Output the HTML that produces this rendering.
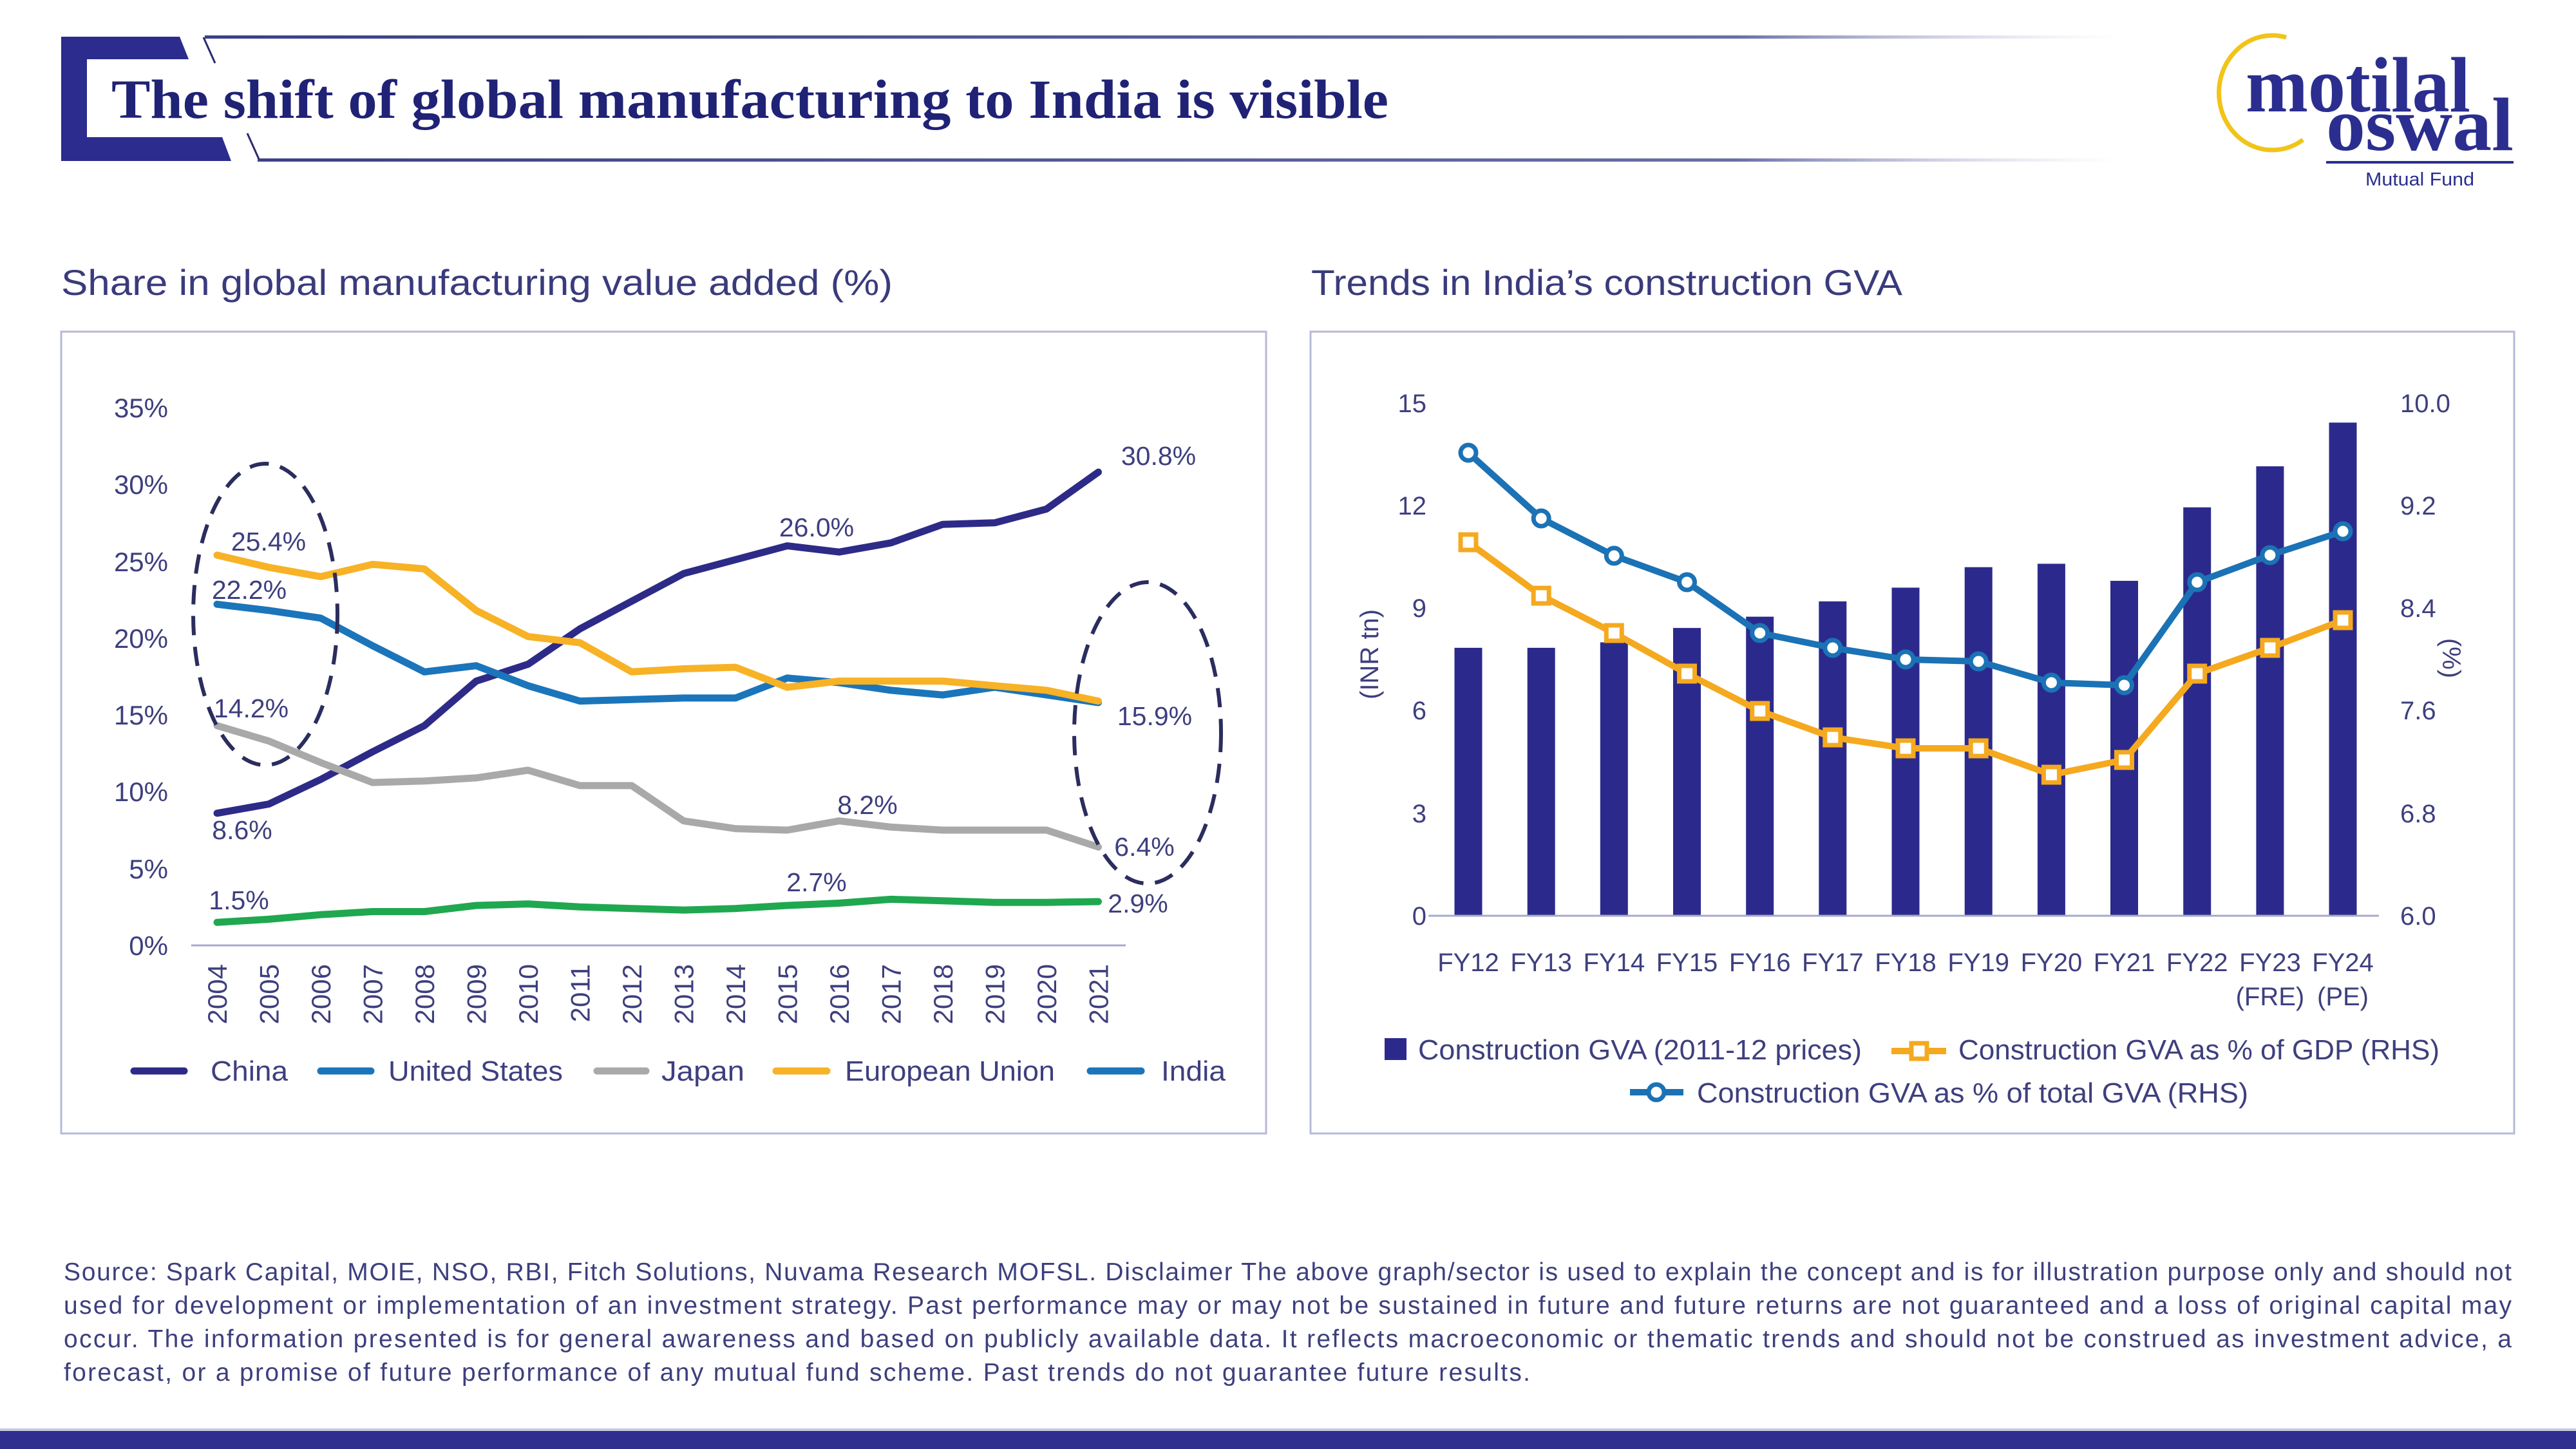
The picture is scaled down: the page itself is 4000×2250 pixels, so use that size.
<!DOCTYPE html>
<html>
<head>
<meta charset="utf-8">
<style>
html,body{margin:0;padding:0;background:#ffffff;}
svg{display:block;}
text{font-family:"Liberation Sans",Arial,sans-serif;}
.serif{font-family:"Liberation Serif","Times New Roman",serif;}
</style>
</head>
<body>
<svg width="4000" height="2250" viewBox="0 0 4000 2250" xmlns="http://www.w3.org/2000/svg">
<defs>
  <linearGradient id="hl" gradientUnits="userSpaceOnUse" x1="318" y1="0" x2="3290" y2="0">
    <stop offset="0" stop-color="#3c3f86"/>
    <stop offset="0.8" stop-color="#6a6ea8"/>
    <stop offset="1" stop-color="#c9cbe3" stop-opacity="0"/>
  </linearGradient>
</defs>
<rect x="0" y="0" width="4000" height="2250" fill="#ffffff"/>

<!-- Header bracket -->
<polygon points="95,57 279,57 293,92 135,92 135,213 345,213 359,250 95,250" fill="#2b2c8e"/>
<rect x="318" y="55" width="2972" height="5" fill="url(#hl)"/>
<rect x="400" y="246" width="2890" height="5" fill="url(#hl)"/>
<line x1="316" y1="58" x2="334" y2="98" stroke="#2b2c6e" stroke-width="3"/>
<line x1="384" y1="207" x2="402" y2="247" stroke="#2b2c6e" stroke-width="3"/>
<text class="serif" x="173" y="183" font-size="86" font-weight="bold" fill="#1f2275" textLength="1983" lengthAdjust="spacingAndGlyphs">The shift of global manufacturing to India is visible</text>

<!-- Logo -->
<path d="M 3550 58 A 83 89 0 1 0 3576 217" fill="none" stroke="#f0c419" stroke-width="7"/>
<text class="serif" x="3487" y="173" font-size="122" font-weight="bold" fill="#2b2e8f" textLength="349" lengthAdjust="spacingAndGlyphs">motilal</text>
<text class="serif" x="3612" y="233" font-size="118" font-weight="bold" fill="#2b2e8f" textLength="291" lengthAdjust="spacingAndGlyphs">oswal</text>
<rect x="3612" y="250" width="291" height="4" fill="#2b2e8f"/>
<text x="3673" y="288" font-size="29" fill="#2b2e8f" textLength="169" lengthAdjust="spacingAndGlyphs">Mutual Fund</text>

<!-- Subtitles -->
<text x="95" y="458" font-size="56" fill="#3a3b7c" textLength="1291" lengthAdjust="spacingAndGlyphs">Share in global manufacturing value added (%)</text>
<text x="2036" y="458" font-size="56" fill="#3a3b7c" textLength="918" lengthAdjust="spacingAndGlyphs">Trends in India’s construction GVA</text>

<!-- Boxes -->
<rect x="95" y="515" width="1871" height="1245" fill="none" stroke="#b7b9d9" stroke-width="3"/>
<rect x="2035" y="515" width="1869" height="1245" fill="none" stroke="#b7b9d9" stroke-width="3"/>

<!-- LEFT CHART -->
<g font-size="42" fill="#3e3f7e" text-anchor="end">
  <text x="261" y="648">35%</text>
  <text x="261" y="767">30%</text>
  <text x="261" y="887">25%</text>
  <text x="261" y="1006">20%</text>
  <text x="261" y="1125">15%</text>
  <text x="261" y="1244">10%</text>
  <text x="261" y="1364">5%</text>
  <text x="261" y="1483">0%</text>
</g>
<line x1="297" y1="1468" x2="1748" y2="1468" stroke="#a7a9cc" stroke-width="3"/>
<g font-size="42" fill="#3e3f7e" text-anchor="end">
  <text transform="translate(352,1497) rotate(-90)">2004</text>
  <text transform="translate(432.5,1497) rotate(-90)">2005</text>
  <text transform="translate(513,1497) rotate(-90)">2006</text>
  <text transform="translate(593.5,1497) rotate(-90)">2007</text>
  <text transform="translate(674,1497) rotate(-90)">2008</text>
  <text transform="translate(754.5,1497) rotate(-90)">2009</text>
  <text transform="translate(835,1497) rotate(-90)">2010</text>
  <text transform="translate(915.5,1497) rotate(-90)">2011</text>
  <text transform="translate(996,1497) rotate(-90)">2012</text>
  <text transform="translate(1076.5,1497) rotate(-90)">2013</text>
  <text transform="translate(1157,1497) rotate(-90)">2014</text>
  <text transform="translate(1237.5,1497) rotate(-90)">2015</text>
  <text transform="translate(1318,1497) rotate(-90)">2016</text>
  <text transform="translate(1398.5,1497) rotate(-90)">2017</text>
  <text transform="translate(1479,1497) rotate(-90)">2018</text>
  <text transform="translate(1559.5,1497) rotate(-90)">2019</text>
  <text transform="translate(1640,1497) rotate(-90)">2020</text>
  <text transform="translate(1720.5,1497) rotate(-90)">2021</text>
</g>

<g fill="none" stroke-width="11" stroke-linejoin="round" stroke-linecap="round">
  <polyline stroke="#2d2b87" points="337,1262.8 417.5,1248.5 498,1210.3 578.5,1167.4 659,1126.8 739.5,1057.6 820,1031.4 900.5,976.5 981,933.5 1061.5,890.6 1142,869.1 1222.5,847.6 1303,857.2 1383.5,842.9 1464,814.2 1544.5,811.8 1625,790.4 1705.5,733.1"/>
  <polyline stroke="#1b75bb" points="337,938.3 417.5,947.9 498,959.8 578.5,1002.7 659,1043.3 739.5,1033.7 820,1064.8 900.5,1088.6 981,1086.2 1061.5,1083.9 1142,1083.9 1222.5,1052.8 1303,1060 1383.5,1071.9 1464,1079.1 1544.5,1067.2 1625,1079.1 1705.5,1091"/>
  <polyline stroke="#a9a9a9" points="337,1126.8 417.5,1150.7 498,1184.1 578.5,1215.1 659,1212.7 739.5,1207.9 820,1196 900.5,1219.9 981,1219.9 1061.5,1274.7 1142,1286.7 1222.5,1289 1303,1274.7 1383.5,1284.3 1464,1289 1544.5,1289 1625,1289 1705.5,1315.3"/>
  <polyline stroke="#f7b226" points="337,862 417.5,881 498,895.4 578.5,876.3 659,883.4 739.5,947.9 820,988.4 900.5,998 981,1043.3 1061.5,1038.5 1142,1036.1 1222.5,1067.2 1303,1057.6 1383.5,1057.6 1464,1057.6 1544.5,1064.8 1625,1071.9 1705.5,1088.6"/>
  <polyline stroke="#1fa84f" points="337,1432.2 417.5,1427.4 498,1420.3 578.5,1415.5 659,1415.5 739.5,1406 820,1403.6 900.5,1408.3 981,1410.7 1061.5,1413.1 1142,1410.7 1222.5,1406 1303,1402.4 1383.5,1396.4 1464,1398.8 1544.5,1401.2 1625,1401.2 1705.5,1400"/>
</g>

<ellipse cx="412" cy="954" rx="112" ry="234" fill="none" stroke="#2b2d5e" stroke-width="6" stroke-dasharray="30 18"/>
<ellipse cx="1782" cy="1138" rx="114" ry="234" fill="none" stroke="#2b2d5e" stroke-width="6" stroke-dasharray="30 18"/>

<g font-size="41" fill="#3e3f7e" text-anchor="middle">
  <text x="417" y="855">25.4%</text>
  <text x="387" y="930">22.2%</text>
  <text x="390" y="1114">14.2%</text>
  <text x="376" y="1303">8.6%</text>
  <text x="371" y="1412">1.5%</text>
  <text x="1799" y="722">30.8%</text>
  <text x="1268" y="833">26.0%</text>
  <text x="1793" y="1126">15.9%</text>
  <text x="1347" y="1264">8.2%</text>
  <text x="1777" y="1329">6.4%</text>
  <text x="1268" y="1384">2.7%</text>
  <text x="1767" y="1417">2.9%</text>
</g>

<!-- Left legend -->
<g stroke-width="11" stroke-linecap="round">
  <line x1="208" y1="1663" x2="286" y2="1663" stroke="#2d2b87"/>
  <line x1="498" y1="1663" x2="576" y2="1663" stroke="#1b75bb"/>
  <line x1="927" y1="1663" x2="1003" y2="1663" stroke="#a9a9a9"/>
  <line x1="1205" y1="1663" x2="1284" y2="1663" stroke="#f7b226"/>
  <line x1="1693" y1="1663" x2="1772" y2="1663" stroke="#1b75bb"/>
</g>
<g font-size="44" fill="#3e3f7e">
  <text x="327" y="1678" textLength="120" lengthAdjust="spacingAndGlyphs">China</text>
  <text x="603" y="1678" textLength="271" lengthAdjust="spacingAndGlyphs">United States</text>
  <text x="1027" y="1678" textLength="129" lengthAdjust="spacingAndGlyphs">Japan</text>
  <text x="1312" y="1678" textLength="326" lengthAdjust="spacingAndGlyphs">European Union</text>
  <text x="1803" y="1678" textLength="100" lengthAdjust="spacingAndGlyphs">India</text>
</g>

<!-- RIGHT CHART -->
<g fill="#2b2a8c">
  <rect x="2258.5" y="1005.9" width="43" height="416.1"/>
  <rect x="2371.7" y="1005.9" width="43" height="416.1"/>
  <rect x="2484.8" y="997.4" width="43" height="424.6"/>
  <rect x="2598" y="975.1" width="43" height="446.9"/>
  <rect x="2711.2" y="957.6" width="43" height="464.4"/>
  <rect x="2824.3" y="933.8" width="43" height="488.2"/>
  <rect x="2937.5" y="912.5" width="43" height="509.5"/>
  <rect x="3050.7" y="880.7" width="43" height="541.3"/>
  <rect x="3163.9" y="875.4" width="43" height="546.6"/>
  <rect x="3277" y="901.9" width="43" height="520.1"/>
  <rect x="3390.2" y="787.8" width="43" height="634.2"/>
  <rect x="3503.4" y="724.1" width="43" height="697.9"/>
  <rect x="3616.5" y="656.2" width="43" height="765.8"/>
</g>
<line x1="2218" y1="1422" x2="3694" y2="1422" stroke="#a7a9cc" stroke-width="3"/>

<polyline fill="none" stroke="#f5a91f" stroke-width="10" stroke-linejoin="round" points="2280,842 2393.2,925 2506.3,983 2619.5,1046 2732.7,1104 2845.8,1145 2959,1162 3072.2,1162 3185.4,1203 3298.5,1180 3411.7,1046 3524.9,1006 3638,963"/>
<g fill="#ffffff" stroke="#f5a91f" stroke-width="7">
  <rect x="2268" y="830" width="24" height="24"/>
  <rect x="2381.2" y="913" width="24" height="24"/>
  <rect x="2494.3" y="971" width="24" height="24"/>
  <rect x="2607.5" y="1034" width="24" height="24"/>
  <rect x="2720.7" y="1092" width="24" height="24"/>
  <rect x="2833.8" y="1133" width="24" height="24"/>
  <rect x="2947" y="1150" width="24" height="24"/>
  <rect x="3060.2" y="1150" width="24" height="24"/>
  <rect x="3173.4" y="1191" width="24" height="24"/>
  <rect x="3286.5" y="1168" width="24" height="24"/>
  <rect x="3399.7" y="1034" width="24" height="24"/>
  <rect x="3512.9" y="994" width="24" height="24"/>
  <rect x="3626" y="951" width="24" height="24"/>
</g>
<polyline fill="none" stroke="#1b72b5" stroke-width="10" stroke-linejoin="round" points="2280,703 2393.2,805 2506.3,863 2619.5,904 2732.7,983 2845.8,1006 2959,1024 3072.2,1027 3185.4,1060 3298.5,1064 3411.7,904 3524.9,862 3638,825"/>
<g fill="#ffffff" stroke="#1b72b5" stroke-width="7">
  <circle cx="2280" cy="703" r="12"/>
  <circle cx="2393.2" cy="805" r="12"/>
  <circle cx="2506.3" cy="863" r="12"/>
  <circle cx="2619.5" cy="904" r="12"/>
  <circle cx="2732.7" cy="983" r="12"/>
  <circle cx="2845.8" cy="1006" r="12"/>
  <circle cx="2959" cy="1024" r="12"/>
  <circle cx="3072.2" cy="1027" r="12"/>
  <circle cx="3185.4" cy="1060" r="12"/>
  <circle cx="3298.5" cy="1064" r="12"/>
  <circle cx="3411.7" cy="904" r="12"/>
  <circle cx="3524.9" cy="862" r="12"/>
  <circle cx="3638" cy="825" r="12"/>
</g>

<g font-size="40" fill="#3e3f7e" text-anchor="end">
  <text x="2215" y="640">15</text>
  <text x="2215" y="799">12</text>
  <text x="2215" y="958">9</text>
  <text x="2215" y="1117">6</text>
  <text x="2215" y="1277">3</text>
  <text x="2215" y="1436">0</text>
</g>
<g font-size="40" fill="#3e3f7e" text-anchor="start">
  <text x="3727" y="640">10.0</text>
  <text x="3727" y="799">9.2</text>
  <text x="3727" y="958">8.4</text>
  <text x="3727" y="1117">7.6</text>
  <text x="3727" y="1277">6.8</text>
  <text x="3727" y="1436">6.0</text>
</g>
<text transform="translate(2140,1016) rotate(-90)" font-size="40" fill="#3e3f7e" text-anchor="middle">(INR tn)</text>
<text transform="translate(3793,1022) rotate(90)" font-size="40" fill="#3e3f7e" text-anchor="middle">(%)</text>

<g font-size="40" fill="#3e3f7e" text-anchor="middle">
  <text x="2280" y="1508">FY12</text>
  <text x="2393.2" y="1508">FY13</text>
  <text x="2506.3" y="1508">FY14</text>
  <text x="2619.5" y="1508">FY15</text>
  <text x="2732.7" y="1508">FY16</text>
  <text x="2845.8" y="1508">FY17</text>
  <text x="2959" y="1508">FY18</text>
  <text x="3072.2" y="1508">FY19</text>
  <text x="3185.4" y="1508">FY20</text>
  <text x="3298.5" y="1508">FY21</text>
  <text x="3411.7" y="1508">FY22</text>
  <text x="3524.9" y="1508">FY23</text>
  <text x="3638" y="1508">FY24</text>
  <text x="3524.9" y="1561">(FRE)</text>
  <text x="3638" y="1561">(PE)</text>
</g>

<!-- Right legend -->
<rect x="2150" y="1612" width="34" height="34" fill="#2b2a8c"/>
<text x="2202" y="1645" font-size="44" fill="#3e3f7e" textLength="689" lengthAdjust="spacingAndGlyphs">Construction GVA (2011-12 prices)</text>
<line x1="2937" y1="1632" x2="3022" y2="1632" stroke="#f5a91f" stroke-width="10"/>
<rect x="2968" y="1620" width="24" height="24" fill="#ffffff" stroke="#f5a91f" stroke-width="7"/>
<text x="3041" y="1645" font-size="44" fill="#3e3f7e" textLength="747" lengthAdjust="spacingAndGlyphs">Construction GVA as % of GDP (RHS)</text>
<line x1="2531" y1="1696" x2="2614" y2="1696" stroke="#1b72b5" stroke-width="10"/>
<circle cx="2572" cy="1696" r="12" fill="#ffffff" stroke="#1b72b5" stroke-width="7"/>
<text x="2635" y="1712" font-size="44" fill="#3e3f7e" textLength="856" lengthAdjust="spacingAndGlyphs">Construction GVA as % of total GVA (RHS)</text>

<!-- Footer -->
<g font-size="39" fill="#3d3f7d">
  <text x="99" y="1988" textLength="3801">Source: Spark Capital, MOIE, NSO, RBI, Fitch Solutions, Nuvama Research MOFSL. Disclaimer The above graph/sector is used to explain the concept and is for illustration purpose only and should not</text>
  <text x="99" y="2040" textLength="3801">used for development or implementation of an investment strategy. Past performance may or may not be sustained in future and future returns are not guaranteed and a loss of original capital may</text>
  <text x="99" y="2092" textLength="3801">occur. The information presented is for general awareness and based on publicly available data. It reflects macroeconomic or thematic trends and should not be construed as investment advice, a</text>
  <text x="99" y="2144" textLength="2277">forecast, or a promise of future performance of any mutual fund scheme. Past trends do not guarantee future results.</text>
</g>

<rect x="0" y="2218" width="4000" height="4" fill="#c9cbe3"/>
<rect x="0" y="2222" width="4000" height="28" fill="#2e2f8e"/>
</svg>
</body>
</html>
